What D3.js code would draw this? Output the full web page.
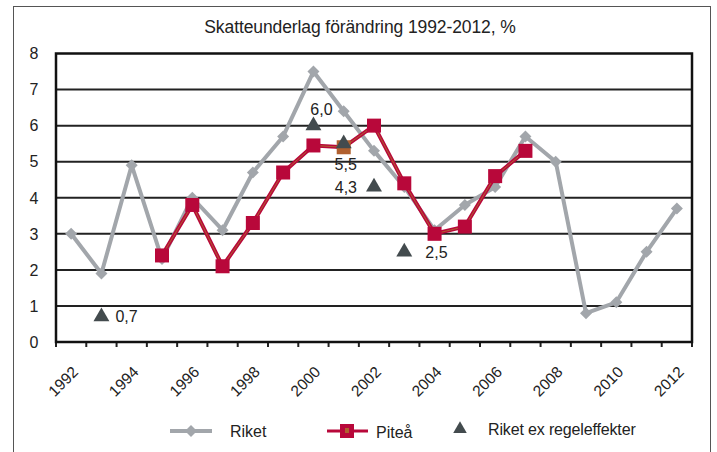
<!DOCTYPE html>
<html>
<head>
<meta charset="utf-8">
<script src="https://cdn.jsdelivr.net/npm/d3@7"></script>
<style>
  body { margin: 0; background: #fff; }
  text { font-family: "Liberation Sans", Arial, sans-serif; fill: #222; }
</style>
</head>
<body>
<svg id="chart" width="717" height="452"></svg>
<script>
// data
const years = d3.range(1992, 2013);
const riket = [3.0, 1.9, 4.9, 2.3, 4.0, 3.1, 4.7, 5.7, 7.5, 6.4, 5.3, 4.3, 3.1, 3.8, 4.3, 5.7, 5.0, 0.8, 1.1, 2.5, 3.7];
const piteaYears = d3.range(1995, 2008);
const pitea = [2.4, 3.8, 2.1, 3.3, 4.7, 5.45, 5.4, 6.0, 4.4, 3.0, 3.2, 4.6, 5.3];
const exYears = [1993, 2000, 2001, 2002, 2003];
const exValues = [0.7, 6.0, 5.5, 4.3, 2.5];
const exLabels = ['0,7', '6,0', '5,5', '4,3', '2,5'];
const yTicks = [0, 1, 2, 3, 4, 5, 6, 7, 8];
const title = 'Skatteunderlag förändring 1992-2012, %';

const svg = d3.select('#chart');
const margin = {top: 53.5, right: 25, bottom: 110, left: 56};
const width = 717 - margin.left - margin.right;
const height = 452 - margin.top - margin.bottom;

const grey = '#a2a6ab';
const red = '#b8083a';
const brown = '#b0602f';
const dark = '#434b4e';

// outer frame
svg.append('rect')
  .attr('x', 13.5).attr('y', 6.5)
  .attr('width', 697).attr('height', 460)
  .attr('fill', 'none').attr('stroke', '#555').attr('stroke-width', 1);

svg.append('text')
  .attr('x', 360).attr('y', 33)
  .attr('text-anchor', 'middle')
  .style('font-size', '17.5px')
  .style('letter-spacing', '-0.1px')
  .text(title);

const g = svg.append('g').attr('transform', `translate(${margin.left},${margin.top})`);

const x = d3.scaleBand().domain(years).range([0, width]).padding(0);
const y = d3.scaleLinear().domain([0, 8]).range([height, 0]);
const cx = d => x(d) + x.bandwidth() / 2;

// gridlines
g.selectAll('.grid')
  .data(yTicks.filter(t => t > 0 && t < 8))
  .join('line').attr('class', 'grid')
  .attr('x1', 0).attr('x2', width)
  .attr('y1', d => y(d)).attr('y2', d => y(d))
  .attr('stroke', '#222').attr('stroke-width', 2);

// y labels
g.selectAll('.ylab')
  .data(yTicks)
  .join('text').attr('class', 'ylab')
  .attr('x', -22).attr('y', d => y(d))
  .attr('dy', '0.36em')
  .attr('text-anchor', 'middle')
  .style('font-size', '16px')
  .text(d => d);

// x ticks between categories
const bounds = years.map(d => x(d)).concat([width]);
g.selectAll('.xtick')
  .data(bounds)
  .join('line').attr('class', 'xtick')
  .attr('x1', d => d).attr('x2', d => d)
  .attr('y1', height).attr('y2', height + 5)
  .attr('stroke', '#222').attr('stroke-width', 2);

g.selectAll('.xlab')
  .data(years.filter(d => d % 2 === 0))
  .join('text').attr('class', 'xlab')
  .attr('transform', d => `translate(${cx(d) + 8},${height + 31}) rotate(-45)`)
  .attr('text-anchor', 'end')
  .style('font-size', '15.5px')
  .text(d => d);

// plot frame
g.append('rect')
  .attr('x', 0).attr('y', 0)
  .attr('width', width).attr('height', height)
  .attr('fill', 'none').attr('stroke', '#111').attr('stroke-width', 2.5);

// Riket
const riketData = years.map((d, i) => ({year: d, value: riket[i]}));
const line = d3.line().x(d => cx(d.year)).y(d => y(d.value));
g.append('path')
  .datum(riketData)
  .attr('d', line)
  .attr('fill', 'none').attr('stroke', grey).attr('stroke-width', 4)
  .attr('stroke-linejoin', 'round');
const diamond = d3.symbol().type(d3.symbolSquare).size(72);
g.selectAll('.riket')
  .data(riketData)
  .join('path').attr('class', 'riket')
  .attr('transform', d => `translate(${cx(d.year)},${y(d.value)}) rotate(45)`)
  .attr('d', diamond)
  .attr('fill', grey);

// Piteå
const piteaData = piteaYears.map((d, i) => ({year: d, value: pitea[i]}));
g.append('path')
  .datum(piteaData)
  .attr('d', line)
  .attr('fill', 'none').attr('stroke', red).attr('stroke-width', 4);
g.append('path')
  .datum(piteaData)
  .attr('d', line)
  .attr('fill', 'none').attr('stroke', brown).attr('stroke-width', 1);
g.selectAll('.pitea')
  .data(piteaData)
  .join('rect').attr('class', 'pitea')
  .attr('x', d => cx(d.year) - 7).attr('y', d => y(d.value) - 7)
  .attr('width', 14).attr('height', 14)
  .attr('fill', d => d.year === 2001 ? brown : red);

// Riket ex regeleffekter
const exData = exYears.map((d, i) => ({year: d, value: exValues[i], label: exLabels[i]}));
const tri = d3.symbol().type(d3.symbolTriangle).size(110);
g.selectAll('.ex')
  .data(exData)
  .join('path').attr('class', 'ex')
  .attr('transform', d => `translate(${cx(d.year)},${y(d.value)})`)
  .attr('d', tri)
  .attr('fill', dark);

// label offsets per point
const labelPos = {
  1993: {dx: 14, dy: 5, anchor: 'start'},
  2000: {dx: 8, dy: -11, anchor: 'middle'},
  2001: {dx: 2, dy: 26, anchor: 'middle'},
  2002: {dx: -17, dy: 6, anchor: 'end'},
  2003: {dx: 21, dy: 6, anchor: 'start'}
};
g.selectAll('.exlab')
  .data(exData)
  .join('text').attr('class', 'exlab')
  .attr('x', d => cx(d.year) + labelPos[d.year].dx)
  .attr('y', d => y(d.value) + labelPos[d.year].dy)
  .attr('text-anchor', d => labelPos[d.year].anchor)
  .style('font-size', '16px')
  .text(d => d.label);

// legend
const leg = svg.append('g').attr('transform', 'translate(0,431)');
leg.append('line').attr('x1', 170).attr('x2', 212).attr('stroke', grey).attr('stroke-width', 4);
leg.append('path').attr('transform', 'translate(191,0) rotate(45)').attr('d', diamond).attr('fill', grey);
leg.append('text').attr('x', 230).attr('y', 6).style('font-size', '16px').text('Riket');

leg.append('line').attr('x1', 327).attr('x2', 368).attr('stroke', red).attr('stroke-width', 3);
leg.append('rect').attr('x', 340).attr('y', -7).attr('width', 14).attr('height', 14).attr('fill', red);
leg.append('rect').attr('x', 345).attr('y', -3).attr('width', 4).attr('height', 5).attr('fill', brown);
leg.append('text').attr('x', 376).attr('y', 7).style('font-size', '16px').text('Piteå');

leg.append('path').attr('transform', 'translate(460,-2)').attr('d', d3.symbol().type(d3.symbolTriangle).size(80)).attr('fill', dark);
leg.append('text').attr('x', 488).attr('y', 4).style('font-size', '16px').style('letter-spacing', '-0.15px').text('Riket ex regeleffekter');
</script>
</body>
</html>
